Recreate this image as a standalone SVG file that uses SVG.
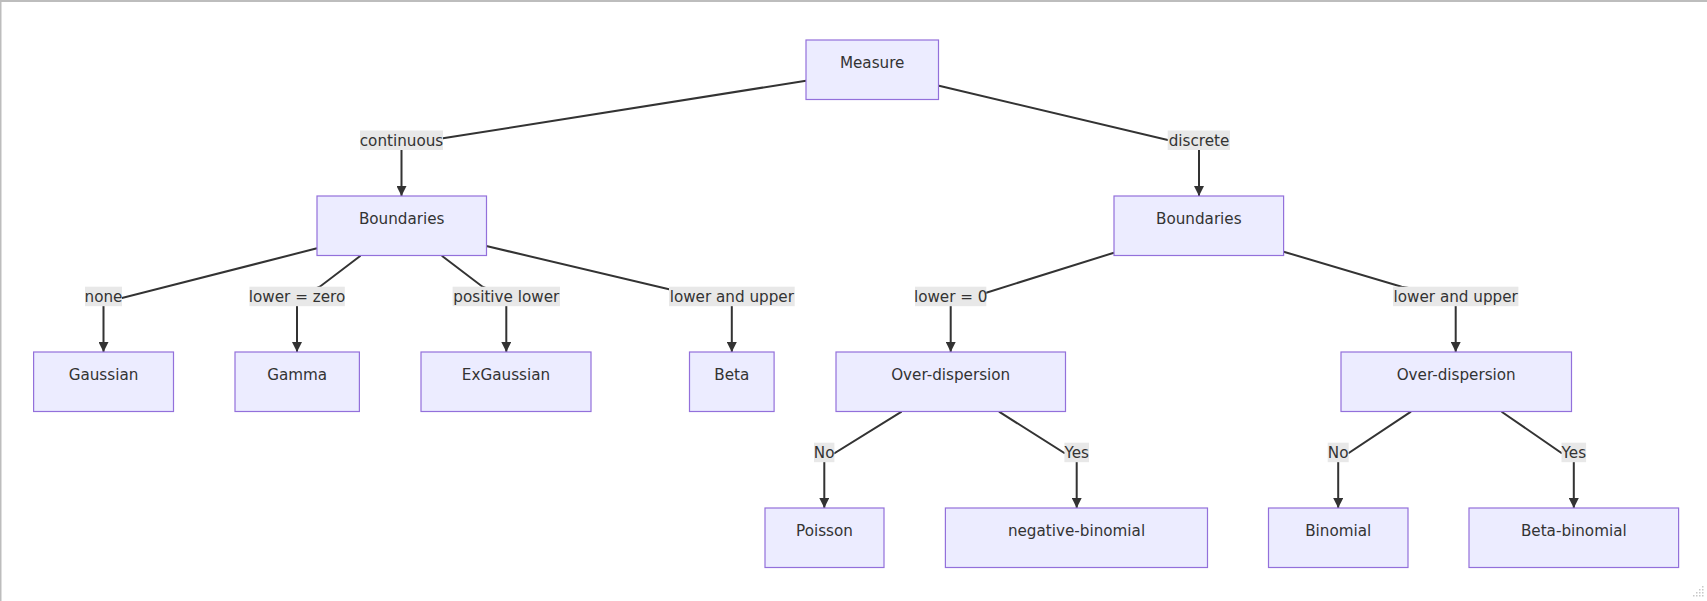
<svg xmlns="http://www.w3.org/2000/svg" width="1707" height="601" viewBox="0 0 1707 601">
<style>
.node rect{fill:#ececff;stroke:#9370db;stroke-width:1.2}
.node text,.lbl text{font-family:"DejaVu Sans",sans-serif;font-size:15.2px;fill:#333;text-anchor:middle;dominant-baseline:central}
.lbl rect{fill:#e8e8e8}
.edge{fill:none;stroke:#333;stroke-width:2}
</style>
<defs>
<marker id="arr" viewBox="0 0 10 10" refX="10" refY="5" markerWidth="10" markerHeight="10" markerUnits="userSpaceOnUse" orient="auto">
<path d="M0,0 L10,5 L0,10 z" fill="#333"/>
</marker>
</defs>
<rect x="0" y="0" width="1707" height="601" fill="#fff"/>
<rect x="0" y="0" width="1707" height="2" fill="#bdbdbd"/>
<rect x="0" y="0" width="1.5" height="601" fill="#bdbdbd"/>
<g id="connectors">
<path class="edge" marker-end="url(#arr)" d="M806,80.7 L443,138.3 L401.5,140.3 L401.5,196"/>
<path class="edge" marker-end="url(#arr)" d="M939,85.7 L1167.7,140 L1199,140.3 L1199,196"/>
<path class="edge" marker-end="url(#arr)" d="M317,248.3 L122,298 L103.5,296.3 L103.5,352"/>
<path class="edge" marker-end="url(#arr)" d="M360.5,255.7 L319.8,286.7 L297,296.3 L297,352"/>
<path class="edge" marker-end="url(#arr)" d="M441.8,255.7 L482.5,286.7 L506.3,296.3 L506.3,352"/>
<path class="edge" marker-end="url(#arr)" d="M486.3,246 L669,289.3 L731.8,296.3 L731.8,352"/>
<path class="edge" marker-end="url(#arr)" d="M1114,252.7 L986.3,292.7 L950.7,296.3 L950.7,352"/>
<path class="edge" marker-end="url(#arr)" d="M1283.6,251.7 L1401.6,286.7 L1455.7,296.3 L1455.7,352"/>
<path class="edge" marker-end="url(#arr)" d="M901.6,411.7 L834.4,453.3 L824.3,452.5 L824.3,508"/>
<path class="edge" marker-end="url(#arr)" d="M999,411.7 L1064.4,453 L1076.7,452.5 L1076.7,508"/>
<path class="edge" marker-end="url(#arr)" d="M1411,411.7 L1348.7,453 L1338.2,452.5 L1338.2,508"/>
<path class="edge" marker-end="url(#arr)" d="M1501.6,411.7 L1561.5,453 L1573.8,452.5 L1573.8,508"/>
</g>
<g id="edge-labels">
<g class="lbl"><rect x="360" y="130.5" width="83" height="19.5"/><text x="401.5" y="141">continuous</text></g>
<g class="lbl"><rect x="1167.7" y="130.5" width="62.3" height="19.5"/><text x="1199" y="141">discrete</text></g>
<g class="lbl"><rect x="85" y="286.7" width="37" height="19.5"/><text x="103.5" y="297.2">none</text></g>
<g class="lbl"><rect x="249.4" y="286.7" width="95.4" height="19.5"/><text x="297" y="297.2">lower = zero</text></g>
<g class="lbl"><rect x="452.6" y="286.7" width="107.4" height="19.5"/><text x="506.3" y="297.2">positive lower</text></g>
<g class="lbl"><rect x="669" y="286.7" width="125.7" height="19.5"/><text x="731.8" y="297.2">lower and upper</text></g>
<g class="lbl"><rect x="915" y="286.7" width="71.3" height="19.5"/><text x="950.7" y="297.2">lower = 0</text></g>
<g class="lbl"><rect x="1393" y="286.7" width="125.4" height="19.5"/><text x="1455.7" y="297.2">lower and upper</text></g>
<g class="lbl"><rect x="814" y="442.7" width="20.4" height="19.5"/><text x="824.2" y="453.2">No</text></g>
<g class="lbl"><rect x="1064.4" y="442.7" width="24.6" height="19.5"/><text x="1076.7" y="453.2">Yes</text></g>
<g class="lbl"><rect x="1327.7" y="442.7" width="21" height="19.5"/><text x="1338.2" y="453.2">No</text></g>
<g class="lbl"><rect x="1561.5" y="442.7" width="24.6" height="19.5"/><text x="1573.8" y="453.2">Yes</text></g>
</g>
<g id="measure" class="node"><rect x="806" y="40" width="132.5" height="59.5"/><text x="872.2" y="63.3">Measure</text></g>
<g id="boundaries-cont" class="node"><rect x="317" y="196" width="169.5" height="59.5"/><text x="401.7" y="219">Boundaries</text></g>
<g id="boundaries-disc" class="node"><rect x="1114" y="196" width="169.6" height="59.5"/><text x="1198.8" y="219">Boundaries</text></g>
<g id="gaussian" class="node"><rect x="33.6" y="352" width="139.9" height="59.5"/><text x="103.5" y="375">Gaussian</text></g>
<g id="gamma" class="node"><rect x="235" y="352" width="124.4" height="59.5"/><text x="297.2" y="375">Gamma</text></g>
<g id="exgaussian" class="node"><rect x="421" y="352" width="170" height="59.5"/><text x="506" y="375">ExGaussian</text></g>
<g id="beta" class="node"><rect x="689.5" y="352" width="84.6" height="59.5"/><text x="731.8" y="375">Beta</text></g>
<g id="overdisp-0" class="node"><rect x="836" y="352" width="229.5" height="59.5"/><text x="950.7" y="375">Over-dispersion</text></g>
<g id="overdisp-lu" class="node"><rect x="1341" y="352" width="230.5" height="59.5"/><text x="1456.2" y="375">Over-dispersion</text></g>
<g id="poisson" class="node"><rect x="765" y="508" width="119" height="59.5"/><text x="824.5" y="531">Poisson</text></g>
<g id="negbin" class="node"><rect x="945.4" y="508" width="262.1" height="59.5"/><text x="1076.5" y="531">negative-binomial</text></g>
<g id="binomial" class="node"><rect x="1268.5" y="508" width="139.5" height="59.5"/><text x="1338.2" y="531">Binomial</text></g>
<g id="betabin" class="node"><rect x="1469" y="508" width="209.6" height="59.5"/><text x="1573.8" y="531">Beta-binomial</text></g>
<g id="resize-handle" fill="#c8c8c8">
<rect x="1702" y="586" width="1.5" height="1.5"/>
<rect x="1699" y="589" width="1.5" height="1.5"/><rect x="1702" y="589" width="1.5" height="1.5"/>
<rect x="1696" y="592" width="1.5" height="1.5"/><rect x="1699" y="592" width="1.5" height="1.5"/><rect x="1702" y="592" width="1.5" height="1.5"/>
<rect x="1693" y="595" width="1.5" height="1.5"/><rect x="1696" y="595" width="1.5" height="1.5"/><rect x="1699" y="595" width="1.5" height="1.5"/><rect x="1702" y="595" width="1.5" height="1.5"/>
</g>
</svg>
